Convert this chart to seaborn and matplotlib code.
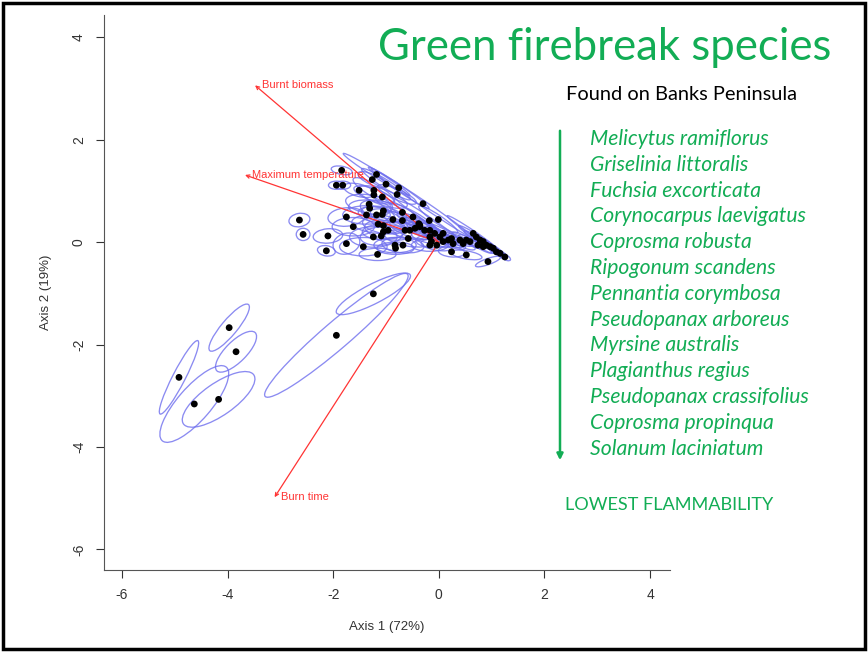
import matplotlib
matplotlib.use("Agg")
import matplotlib.pyplot as plt
import numpy as np
import pandas as pd
import seaborn as sns
from matplotlib.patches import Ellipse, Rectangle, FancyArrowPatch

# species scores on the first two axes
pc1 = [-1.84, -1.18, -1.26, -1.94, -1.82, -1.51, -1.23, -1.23, -1.00, -0.76,
       -0.79, -1.07, -0.30, -1.32, -1.31, -1.05, -1.07, -1.37, -1.18, -1.75,
       -0.69, -0.49, -0.18, -0.01, -0.87, -0.69, -1.15, -1.05, -1.62, -0.38,
       -0.36, -2.64, -2.57, -2.10, -1.75, -2.13, -1.43, -1.16, -1.24, -1.09,
       -1.05, -0.96, -0.83, -0.82, -0.68, -0.58, -0.64, -0.55, -0.45, -0.36,
       -0.27, -0.17, -0.17, -0.08, 0.02, 0.08, -0.14, -0.17, -0.04, 0.08,
       0.18, 0.24, 0.27, 0.40, 0.46, 0.52, 0.59, 0.24, 0.52, 0.65,
       0.71, 0.78, 0.84, 0.90, 0.97, 1.03, 1.09, 1.16, 1.25, 0.93,
       0.84, 0.74,
       -4.92, -3.97, -3.84, -4.63, -4.17, -1.94, -1.24]
pc2 = [1.40, 1.32, 1.22, 1.11, 1.11, 1.01, 1.01, 0.92, 1.13, 1.06,
       0.93, 0.88, 0.75, 0.74, 0.66, 0.61, 0.54, 0.53, 0.53, 0.49,
       0.58, 0.49, 0.42, 0.44, 0.44, 0.42, 0.35, 0.32, 0.30, 0.36,
       0.30, 0.43, 0.15, 0.12, -0.03, -0.17, -0.09, -0.24, 0.10, 0.12,
       0.20, 0.23, -0.06, -0.12, -0.06, 0.07, 0.23, 0.23, 0.27, 0.33,
       0.23, 0.23, 0.10, 0.17, 0.10, 0.17, 0.01, -0.06, -0.06, 0.01,
       0.04, 0.07, -0.03, 0.04, -0.03, 0.04, 0.01, -0.19, -0.25, 0.17,
       0.10, 0.04, 0.01, -0.06, -0.09, -0.12, -0.19, -0.22, -0.29, -0.38,
       -0.09, -0.06,
       -2.64, -1.67, -2.14, -3.16, -3.07, -1.82, -1.01]

# confidence ellipses: semi-axes and rotation
ell_a = [0.20, 0.75, 0.30, 0.15, 0.15, 0.30, 0.45, 0.40, 0.55, 0.70,
         0.40, 0.50, 1.20, 0.45, 0.40, 0.45, 0.40, 0.45, 0.35, 0.35,
         0.60, 0.50, 0.80, 0.45, 0.45, 0.40, 0.50, 0.40, 0.40, 0.45,
         0.35, 0.20, 0.13, 0.28, 0.26, 0.17, 0.45, 0.35, 0.45, 0.40,
         0.40, 0.45, 0.40, 0.35, 0.40, 0.45, 0.40, 0.40, 0.35, 0.30,
         0.35, 0.35, 0.35, 0.30, 0.30, 0.35, 0.30, 0.35, 0.30, 0.25,
         0.30, 0.30, 0.25, 0.25, 0.25, 0.30, 0.25, 0.25, 0.30, 0.60,
         0.40, 0.35, 0.25, 0.25, 0.20, 0.20, 0.15, 0.15, 0.12, 0.25,
         0.25, 0.30,
         0.80, 0.58, 0.52, 0.94, 0.82, 1.80, 0.79]
ell_b = [0.08, 0.06, 0.10, 0.08, 0.08, 0.12, 0.12, 0.12, 0.08, 0.06,
         0.10, 0.15, 0.06, 0.18, 0.16, 0.18, 0.15, 0.18, 0.15, 0.18,
         0.10, 0.10, 0.06, 0.08, 0.15, 0.12, 0.18, 0.15, 0.18, 0.10,
         0.10, 0.13, 0.12, 0.14, 0.20, 0.10, 0.18, 0.12, 0.20, 0.18,
         0.15, 0.18, 0.15, 0.12, 0.15, 0.15, 0.14, 0.12, 0.10, 0.10,
         0.12, 0.10, 0.12, 0.10, 0.10, 0.08, 0.12, 0.12, 0.10, 0.10,
         0.08, 0.08, 0.08, 0.07, 0.07, 0.06, 0.06, 0.10, 0.08, 0.05,
         0.05, 0.05, 0.05, 0.05, 0.05, 0.05, 0.05, 0.05, 0.05, 0.06,
         0.05, 0.05,
         0.12, 0.15, 0.20, 0.32, 0.31, 0.26, 0.19]
ell_ang = [-10, -33, -25, 0, 0, -15, -30, -20, -33, -35,
           -25, -20, -35, -10, -5, -15, -10, 0, -10, 5,
           -30, -30, -35, -35, -20, -20, -5, -10, 0, -25,
           -25, 10, 0, 5, 20, -10, 0, 0, 0, 5,
           0, -10, 0, 0, -5, -10, -15, -20, -25, -25,
           -20, -25, -10, -20, -20, -30, -5, 0, -10, -15,
           -25, -25, -20, -25, -25, -30, -30, -5, -10, -35,
           -33, -30, -30, -30, -30, -30, -30, -30, -30, 20,
           -30, -30,
           63.5, 51, 46, 50, 36, 41.5, 28]

# fitted variable vectors
var_names = ["Burnt biomass", "Maximum temperature", "Burn time"]
var_x = [-3.48, -3.67, -3.11]
var_y = [3.06, 1.31, -4.98]

species = ["Melicytus ramiflorus", "Griselinia littoralis", "Fuchsia excorticata",
           "Corynocarpus laevigatus", "Coprosma robusta", "Ripogonum scandens",
           "Pennantia corymbosa", "Pseudopanax arboreus", "Myrsine australis",
           "Plagianthus regius", "Pseudopanax crassifolius", "Coprosma propinqua",
           "Solanum laciniatum"]

df = pd.DataFrame({"pc1": pc1, "pc2": pc2})

sns.set_style("ticks")
plt.rcParams['font.family'] = ['Liberation Sans', 'DejaVu Sans']

fig = plt.figure(figsize=(8.68, 6.52), dpi=100)
ax = fig.add_axes([0.1198, 0.1258, 0.652, 0.851])

for x, y, a, b, ang in zip(pc1, pc2, ell_a, ell_b, ell_ang):
    ax.add_patch(Ellipse((x, y), 2 * a, 2 * b, angle=ang, fill=False,
                         ec="#6e6eee", lw=0.95, alpha=0.8, zorder=1))

for name, x, y in zip(var_names, var_x, var_y):
    ax.annotate("", xy=(x, y), xytext=(0, 0),
                arrowprops=dict(arrowstyle="->", color="#ff3434", lw=0.9,
                                shrinkA=0, shrinkB=0, mutation_scale=6),
                zorder=2)
    ax.text(x + 0.13, y, name, color="#ff3434", fontsize=8,
            ha="left", va="center", zorder=2)

sns.scatterplot(data=df, x="pc1", y="pc2", ax=ax, color="black", s=24,
                edgecolor="none", linewidth=0, zorder=3)

ax.set_xlim(-6.34, 4.375)
ax.set_ylim(-6.4, 4.43)
ax.set_xticks([-6, -4, -2, 0, 2, 4])
ax.set_yticks([-6, -4, -2, 0, 2, 4])
ax.set_xticklabels(["-6", "-4", "-2", "0", "2", "4"])
ax.set_yticklabels(["-6", "-4", "-2", "0", "2", "4"], rotation=90, va="center")
ax.tick_params(direction="out", length=6, width=0.8, colors="#333333",
               labelsize=10, pad=7)
ax.set_xlabel("Axis 1 (72%)", fontsize=9.5, color="#333333", labelpad=14)
ax.set_ylabel("Axis 2 (19%)", fontsize=9.5, color="#333333", labelpad=14)
sns.despine(ax=ax)
for s in ["left", "bottom"]:
    ax.spines[s].set_color("#555555")
    ax.spines[s].set_linewidth(0.8)

green = "#12ad55"
W, H = 868, 652
fig.text(605 / W, 1 - 47 / H, "Green firebreak species", color=green,
         fontsize=31.5, family=["Lato", "DejaVu Sans"], ha="center", va="center")
fig.text(682 / W, 1 - 94 / H, "Found on Banks Peninsula", color="black",
         fontsize=14.4, family=["Lato", "DejaVu Sans"], ha="center", va="center")
for i, sp in enumerate(species):
    fig.text(590 / W, 1 - (139 + 25.8 * i) / H, sp, color=green, fontsize=15.2,
             style="italic", family=["Lato", "DejaVu Sans"], ha="left", va="center")
fig.text(565 / W, 1 - 505 / H, "LOWEST FLAMMABILITY", color=green, fontsize=13.1,
         family=["Lato", "DejaVu Sans"], ha="left", va="center")
fig.add_artist(FancyArrowPatch(
    (560 / W, 1 - 128 / H), (560 / W, 1 - 463 / H), transform=fig.transFigure,
    arrowstyle="-|>", mutation_scale=9, color=green, lw=1.8))

fig.add_artist(Rectangle((3 / W, 3 / H), 862 / W, 646 / H, transform=fig.transFigure,
                         fill=False, ec="black", lw=2.5))

fig.savefig("out.png", dpi=100)
